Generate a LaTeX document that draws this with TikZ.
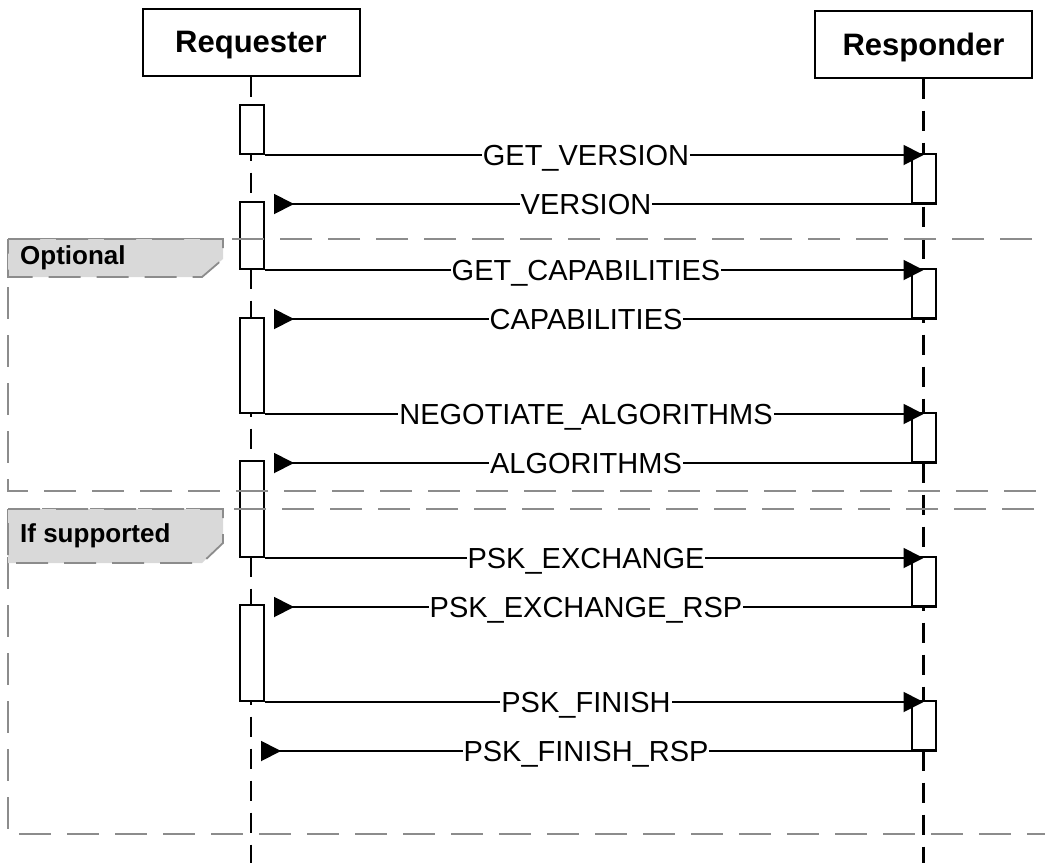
\documentclass[tikz,border=0pt]{standalone}
\usepackage{fontspec}
\setmainfont{Liberation Sans}
\usepackage{tikz}
\usetikzlibrary{arrows.meta,positioning,calc}

\begin{document}
\begin{tikzpicture}[
    x=1pt, y=-1pt,
    actor/.style={rectangle, draw, line width=2pt, minimum width=217pt, minimum height=67pt, inner sep=0pt, text depth=0pt, font=\fontsize{31}{36}\selectfont\bfseries},
    act/.style={rectangle, draw, fill=white, line width=2pt, minimum width=24pt, inner sep=0pt, anchor=north},
    lifeline/.style={draw, line width=2.6pt, dash pattern=on 20pt off 12pt},
    call/.style={draw, line width=1.9pt, -{Triangle[length=20pt, width=20pt]}},
    reply/.style={draw, line width=1.9pt, {Triangle[length=20pt, width=20pt, reversed]}-, shorten <=9pt},
    msg/.style={fill=white, inner xsep=1pt, inner ysep=0pt, anchor=base, yshift=-10.5pt, font=\fontsize{29}{34}\selectfont},
    frame/.style={draw=black!45, line width=1.8pt, dash pattern=on 32pt off 16pt},
    tab/.style={frame, fill=black!15},
    tabtext/.style={anchor=west, inner sep=0pt, font=\fontsize{26}{30}\selectfont\bfseries}
]
    \useasboundingbox (0,0) rectangle (1045,863);
    \coordinate (bottom) at (0,863);
    \coordinate (mid) at (586,0);

    \node [actor] (req) at (251,42) {Requester};
    \node [actor] (resp) at (923.5,44) {Responder};
    \path [lifeline] (req.south) -- (req.south |- bottom);
    \path [lifeline] (resp.south) -- (resp.south |- bottom);

    \node [act, minimum height=49pt] (rq1) at (252,104) {};
    \node [act, minimum height=67pt] (rq2) at (252,201) {};
    \node [act, minimum height=95pt] (rq3) at (252,317) {};
    \node [act, minimum height=96pt] (rq4) at (252,460) {};
    \node [act, minimum height=96pt] (rq5) at (252,604) {};
    \node [act, minimum height=49pt] (rs1) at (924,153) {};
    \node [act, minimum height=49pt] (rs2) at (924,268) {};
    \node [act, minimum height=49pt] (rs3) at (924,412) {};
    \node [act, minimum height=49pt] (rs4) at (924,556) {};
    \node [act, minimum height=49pt] (rs5) at (924,700) {};

    \draw [frame] (8,239) rectangle (1060,491);
    \draw [frame] (8,509) rectangle (1060,834);
    \draw [tab] (8,239) -- (223,239) -- (223,259) -- (202,277) -- (8,277) -- cycle;
    \draw [tab] (8,509) -- (223,509) -- (223,543) -- (202,563) -- (8,563) -- cycle;
    \node [tabtext] (optional) at (20,258) {Optional};
    \node [tabtext] (ifsupported) at (20,536) {If supported};

    \path [call] (rq1.south east) -- (rq1.south east -| resp.south);
    \node [msg] (getversion) at (mid |- rq1.south) {GET\_VERSION};
    \path [reply] (rs1.south east -| rq2.east) -- (rs1.south east);
    \node [msg] (version) at (mid |- rs1.south) {VERSION};

    \path [call] (rq2.south east) -- (rq2.south east -| resp.south);
    \node [msg] (getcaps) at (mid |- rq2.south) {GET\_CAPABILITIES};
    \path [reply] (rs2.south east -| rq3.east) -- (rs2.south east);
    \node [msg] (caps) at (mid |- rs2.south) {CAPABILITIES};

    \path [call] (rq3.south east) -- (rq3.south east -| resp.south);
    \node [msg] (negalgs) at (mid |- rq3.south) {NEGOTIATE\_ALGORITHMS};
    \path [reply] (rs3.south east -| rq4.east) -- (rs3.south east);
    \node [msg] (algs) at (mid |- rs3.south) {ALGORITHMS};

    \path [call] (rq4.south east) -- (rq4.south east -| resp.south);
    \node [msg] (pskex) at (mid |- rq4.south) {PSK\_EXCHANGE};
    \path [reply] (rs4.south east -| rq5.east) -- (rs4.south east);
    \node [msg] (pskexrsp) at (mid |- rs4.south) {PSK\_EXCHANGE\_RSP};

    \path [call] (rq5.south east) -- (rq5.south east -| resp.south);
    \node [msg] (pskfin) at (mid |- rq5.south) {PSK\_FINISH};
    \path [reply, shorten <=10pt] (rs5.south east -| req.south) -- (rs5.south east);
    \node [msg] (pskfinrsp) at (mid |- rs5.south) {PSK\_FINISH\_RSP};
\end{tikzpicture}
\end{document}
